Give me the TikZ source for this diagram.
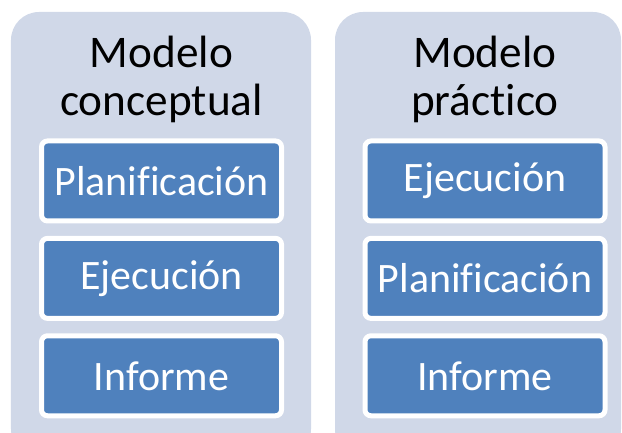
\documentclass[tikz,border=0pt]{standalone}
\usepackage{fontspec}
\setmainfont[Ligatures=NoCommon]{Carlito}
\usepackage{tikz}
\usetikzlibrary{positioning}
\definecolor{panelFill}{HTML}{D0D8E8}
\definecolor{stageFill}{HTML}{4F81BD}
\newcommand{\stageDistance}{0.31cm}
\newcommand{\bigText}{\fontsize{29.8}{34.7}\selectfont}
\newcommand{\titleText}{\fontsize{32.2}{34.7}\selectfont}
\tikzstyle{panel}=[fill=panelFill, rounded corners=0.7cm, inner sep=0pt]
\tikzstyle{stage}=[draw=white, line width=0.125cm, fill=stageFill, rounded corners=0.15cm,
  minimum width=6cm, minimum height=2cm, inner sep=0pt, text=white, font=\bigText]
\tikzstyle{title}=[align=center, inner sep=0pt, font=\titleText]

\begin{document}
\begin{tikzpicture}[node distance = \stageDistance]
  \clip (0,0) rectangle (15.55,10.825);
  % background panels
  \node[panel, minimum width=7.5cm, minimum height=11.125cm] (conceptPanel) at (4.025,4.9625) {};
  \node[panel, minimum width=7.15cm, minimum height=11.125cm] (practPanel) at (11.95,4.9625) {};
  % modelo conceptual
  \node[stage] (conceptPlan) at (4.0375,6.3) {Planificación};
  \node[stage, below=of conceptPlan] (conceptExec) {Ejecución};
  \node[stage, below=of conceptExec] (conceptReport) {Informe};
  \node[title, above=0.375cm of conceptPlan] (conceptTitle) {Modelo\\conceptual};
  % modelo practico
  \node[stage] (practExec) at (12.125,6.3) {Ejecución};
  \node[stage, below=of practExec] (practPlan) {Planificación};
  \node[stage, below=of practPlan] (practReport) {Informe};
  \node[title, above=0.375cm of practExec] (practTitle) {Modelo\\práctico};
\end{tikzpicture}
\end{document}
